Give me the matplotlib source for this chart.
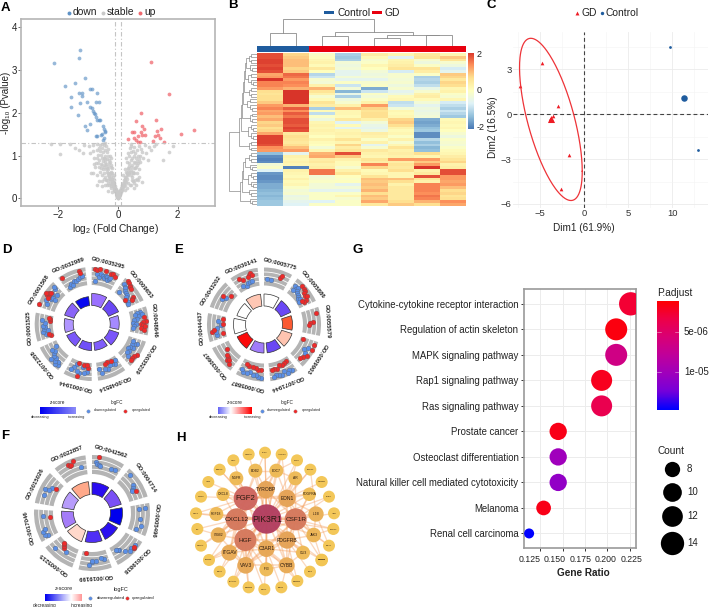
import numpy as np
import matplotlib
matplotlib.use("Agg")
import matplotlib.pyplot as plt
from matplotlib.colors import LinearSegmentedColormap
from matplotlib.patches import Wedge, Circle, Rectangle

plt.rcParams['font.family'] = ['Liberation Sans', 'DejaVu Sans']
plt.rcParams['mathtext.fontset'] = 'custom'
plt.rcParams['mathtext.rm'] = 'Liberation Sans'
plt.rcParams['mathtext.default'] = 'regular'

# ---------------- Panel A data
down_pts = [(-2.15,3.17),(-1.27,3.46),(-1.3,3.28),(-1.78,2.62),(-1.45,2.69),(-1.1,2.8),(-1.32,2.46),(-1.2,2.47),
 (-1.22,2.39),(-1.58,2.36),(-.93,2.56),(-.88,2.56),(-.7,2.47),(-.73,2.25),(-.62,2.24),(-1.05,2.26),(-1.27,2.22),
 (-1.57,2.13),(-.93,2.13),(-.88,2.1),(-.85,2.05),(-.8,2.0),(-.78,1.98),(-1.33,1.94),(-.73,1.9),(-.72,1.83),
 (-.65,1.82),(-.6,1.83),(-.95,1.73),(-1.1,1.69),(-1.03,1.6),(-.5,1.7),(-.48,1.63),(-.45,1.58),(-.42,1.55),
 (-.52,1.5),(-.58,1.47),(-.7,1.46),(-.73,1.45),(-.48,1.42),(-.5,1.37)]
up_pts = [(1.1,3.18),(1.72,2.44),(.78,2.0),(.6,1.8),(1.27,1.84),(.8,1.7),(.87,1.61),(.48,1.54),(.53,1.56),(.78,1.55),
 (.82,1.48),(.9,1.47),(1.3,1.57),(1.43,1.62),(2.56,1.6),(2.1,1.51),(.67,1.46),(1.25,1.46),(1.35,1.47),(1.42,1.42),
 (.33,1.38),(.53,1.4),(.6,1.36),(.68,1.32),(.75,1.32),(1.18,1.34),(1.53,1.32)]
stable_pts = [(-2.24,1.26),(-1.93,1.27),(-1.93,1.03),(-1.62,1.26),(-1.45,1.18),(-1.3,1.12),(-1.18,1.05),(-1.15,1.25),
 (-.98,1.22),(-.85,1.25),(-.7,1.28),(-.6,1.25),(-.52,1.27),(-.46,1.25),(-.95,1.05),(-.85,1.1),(-.8,.95),(-.72,1.12),
 (-.68,1.02),(-.6,1.1),(-.55,1.18),(-.5,1.08),(-.45,1.12),(-.42,1.0),(-.78,.72),(-.72,.55),(-.85,.58),(-.62,.9),
 (-.58,.8),(-.55,.95),(-.5,.88),(-.45,.78),(-.42,.85),(-.38,.92),(-.35,.75),(-.6,.62),(-.55,.55),(-.5,.68),(-.46,.6),
 (-.42,.5),(-.38,.62),(-.35,.55),(-.32,.68),(-.3,.48),(-.28,.6),(-.26,.4),(-.32,.36),(-.38,.3),(-.45,.32),(-.52,.28),
 (-.24,.52),(-.22,.34),(-.2,.45),(-.18,.28),(-.16,.38),(-.14,.22),(-.12,.3),(-.1,.18),(-.09,.25),(-.07,.13),(-.06,.2),
 (-.05,.1),(-.04,.06),(-.03,.04),(-.02,.02),(-.01,.01),(0,0),(.01,.01),(.02,.03),(.03,.05),(.04,.08),(.05,.12),(.06,.16),
 (.07,.1),(.08,.2),(.1,.24),(.11,.16),(.13,.3),(.14,.2),(.16,.36),(.18,.26),(.2,.42),(.22,.3),(.24,.5),(.26,.38),
 (.28,.62),(.3,.45),(.32,.7),(.34,.55),(.36,.82),(.38,.6),(.4,.3),(.42,.72),(.45,.9),(.46,.5),(.48,.78),(.5,.62),
 (.52,1.0),(.54,.85),(.56,.42),(.58,.7),(.6,.3),(.6,.95),(.62,1.12),(.65,.6),(.68,.82),(.7,1.22),(.7,.5),(.72,.68),
 (.74,1.0),(.78,1.15),(.8,.38),(.85,.95),(.9,1.25),(.95,1.05),(1.0,.9),(1.05,1.2),(1.1,1.12),(1.2,1.22),(1.28,1.27),
 (1.5,.9),(1.7,1.08),(1.85,1.23),(-.15,.55),(-.25,.72),(-.3,.82),(-.28,1.0),(-.35,1.15),(-.25,.95),(-.22,.62),
 (.18,.55),(.22,.68),(.3,.85),(.35,1.05),(.4,1.18),(.45,1.28),(.28,.95),(.42,1.08),(.52,.25),(.25,.2),(-.35,.18),
 (-.2,.15),(-.65,.4),(-.7,.3),(-.8,.8),(-.9,.58),(.75,.85),(.62,.45),
 (-.44,1.3),(-.4,1.22),(-.36,1.08),(-.33,.98),(-.3,.9),(-.27,.85),(-.24,.78),(-.21,.7),(-.19,.6),(-.17,.5),(-.15,.42),
 (-.13,.36),(-.11,.28),(-.09,.16),(-.08,.22),(-.07,.18),(-.06,.14),(-.05,.16),(-.04,.11),(-.03,.08),(-.02,.05),
 (-.48,.95),(-.44,.92),(-.4,.8),(-.37,.7),(-.33,.6),(-.29,.52),(-.27,.46),(-.25,.58),(-.23,.44),(-.21,.38),(-.19,.34),
 (-.17,.3),(-.15,.26),(-.13,.2),(-.11,.22),(-.41,.68),(-.47,.72),(-.52,.78),(-.56,.7),(-.62,.72),(-.66,.82),(-.7,.95),
 (-.41,.42),(-.36,.42),(-.3,.3),(-.25,.28),(-.22,.24),(-.48,.45),(-.55,.4),(-.58,1.02),(-.63,1.18),(-.75,.82),
 (.02,.06),(.03,.09),(.04,.05),(.05,.15),(.06,.11),(.07,.17),(.09,.14),(.1,.2),(.12,.26),(.13,.22),(.15,.28),(.17,.32),
 (.19,.36),(.21,.28),(.23,.4),(.25,.44),(.27,.5),(.29,.56),(.31,.6),(.33,.62),(.35,.68),(.37,.75),(.4,.62),(.42,.55),
 (.44,.65),(.47,.42),(.49,.58),(.52,.7),(.55,.6),(.57,.82),(.6,.72),(.64,.78),(.66,.98),(.68,.42),(.35,.35),(.3,.25),
 (.45,.3),(.5,.4),(.55,.35),(.42,1.22),(.5,1.1),(.55,1.2),(.58,1.05),(.62,.88),(.72,.92),(.82,1.08),(.48,.95),(.38,.98)]
volcano_xticks = [-2, 0, 2]
volcano_yticks = [0, 1, 2, 3, 4]
volcano_fc_cut = [-0.1, 0.1]
volcano_p_cut = 1.3

# ---------------- Panel B data
heat = np.array([
[1.9,.8,-.1,-1.2,.4,.2,.5,.2],[1.9,.9,.0,-1.3,.1,-.7,.6,.9],[2.0,1.0,.2,-1.2,-.2,.2,-.2,.6],[2.0,1.0,.3,-.3,-.1,.3,-.4,-.2],
[1.9,1.0,.1,-.4,.2,.4,-.1,-.4],[2.0,.8,.5,-.3,.0,.6,.6,-.8],[1.9,.9,.0,-.6,-.3,-.8,.4,-.6],[1.2,1.7,-1.1,-.6,-.4,-.2,-.1,.9],
[1.3,1.6,-.9,-.3,-.3,-.2,-1.2,.8],[2.1,1.3,-.2,-.6,-.6,-.3,-1.1,.5],[1.5,1.5,-.3,-.1,-.2,-.2,-1.2,.8],[1.5,1.4,.3,-.9,-.1,-.4,-1.0,.7],
[1.3,1.1,1.1,-.3,-1.6,-.2,-.5,.2],[.7,2.1,.6,-1.5,-.9,-.6,-.2,.3],[.6,2.1,.3,-.5,-.1,-.4,.3,-.1],[.7,2.1,-.2,-1.2,-.3,.1,.4,-.2],
[.7,2.1,.1,-.4,-.1,.2,.1,.2],[.9,2.1,.6,-.2,.3,-1.0,-.3,-.8],[1.3,1.1,.4,.3,1.3,-.9,-.6,-1.0],[1.5,1.8,-1.2,1.0,.8,-.3,-.4,-1.2],
[1.2,1.4,.1,.2,.6,.2,-.5,-.9],[1.3,1.8,-1.0,.2,.7,.1,-.4,-1.1],[1.0,1.6,-.1,.1,.7,.2,-.3,-1.3],[1.2,1.9,-.4,.5,.3,.8,-1.6,.1],
[.8,1.9,.2,-.7,-.3,.9,-1.7,.2],[.9,1.8,.3,.1,-.5,.7,-1.6,.1],[.7,2.0,.2,-.6,-.6,.3,-1.4,.2],[.8,1.9,.3,.2,-.4,.1,-1.3,.0],
[1.2,.5,.2,.3,.4,.2,-1.9,-.2],[2.0,.7,.0,.2,.3,-.1,-1.9,-.4],[2.0,.6,.3,.6,-.1,.3,-1.1,-.1],[2.0,.5,.1,.2,.3,-.2,-1.4,-.2],
[1.9,.7,.0,.8,-.6,.2,-1.2,-.3],[1.4,1.0,-.3,.4,-.2,.6,-1.5,-.1],[1.3,1.3,.2,.6,.5,.3,-1.4,.1],[-1.4,-.6,1.1,1.9,.3,.4,.7,.2],
[-1.9,.3,1.2,.9,.2,.3,.2,.4],[-2.0,.2,.4,.3,.6,1.3,1.3,.6],[-1.9,.3,.5,.1,.4,.4,.9,.8],[-.3,.2,.3,.1,1.5,.6,1.3,.3],
[-.1,-2.0,.4,-.2,.8,.5,2.1,.4],[-.7,.3,1.6,.3,.1,.7,.3,1.9],[-1.8,.2,1.6,.6,.2,.2,.5,1.9],[-1.9,.1,-.3,.0,.6,.2,1.9,1.3],
[-1.9,.3,-.2,-.1,1.0,1.0,.6,1.3],[-1.8,.1,-.1,.0,.9,.7,.3,1.2],[-1.6,.2,-.3,-.6,1.0,.3,1.5,1.3],[-1.6,-.1,-.3,-.3,.9,.5,1.5,1.0],
[-1.5,-.3,-.6,-.6,1.1,.5,1.5,.7],[-1.4,-.2,-.1,-.1,.7,.5,1.4,.8],[-1.5,-.5,-.1,.2,1.0,.5,1.6,.6],[-1.4,-.4,-.1,-.2,.9,.5,1.5,.7],
[-1.3,-.6,-.7,-.1,1.2,.7,1.1,1.4],[-1.3,-.7,-.1,-.1,.5,.9,.7,1.2]])
group_labels = ["Control", "GD"]
group_sizes = [2, 6]
heat_ticks = [-2, 0, 2]
# column tree as (height, left, right), leaves are None
col_tree = (27, (13.5, None, None),
            (14, (10, None, None), (11.5, (8.5, None, None), (11, None, None))))
# row tree: sizes of the small leaf groups and how high they join
row_blocks_top = [(4,8),(3,7),(5,9),(4,8),(5,10),(4,7),(6,9),(4,8)]
row_blocks_bot = [(4,8),(3,7),(6,9),(3,8),(3,7)]

# ---------------- Panel C data
gd_dim = [(-4.75,3.4),(-7.3,1.85),(-2.95,.55),(-3.5,-.15),(-3.8,-.3),(-3.7,-.35),(-3.9,-.4),(-3.6,-.4),(-1.65,-2.75),(-2.65,-5.0)]
ctrl_dim = [(9.75,4.5),(12.95,-2.4)]
gd_center = (-3.75,-.35)
ctrl_center = (11.3,1.05)
ell_sx, ell_sy, ell_rho = 3.55, 5.42, -.64

# ---------------- Panels D,E,F data
D_labels = ["GO:0035295","GO:0009653","GO:0048646","GO:0035239","GO:0048514","GO:0001944","GO:0072358","GO:0001525","GO:0001568","GO:0032989"]
D_height = [12,11,9,10,8,8,9,9,10,9]
D_color = ["#9a70ff","#6a48f5","#a58aff","#7a55fa","#7f5cfb","#7050f8","#7a58f9","#b095ff","#8a65f8","#0808f0"]
D_down = [
 [(.2,.6),(.3,.5),(.35,.65),(.45,.55),(.5,.45),(.55,.6),(.6,.55),(.65,.4),(.7,.5),(.75,.6),(.15,.25)],
 [(.1,.7),(.2,.6),(.25,.55),(.3,.45),(.4,.4),(.5,.35),(.55,.25),(.65,.15),(.75,.2),(.85,.15),(.15,.2)],
 [(.12,.6),(.15,.45),(.2,.3),(.3,.5),(.4,.35),(.45,.2),(.55,.15),(.6,.3),(.7,.2),(.8,.12),(.25,.7)],
 [(.2,.6),(.25,.45),(.3,.35),(.4,.5),(.45,.3),(.55,.25),(.6,.4),(.7,.35),(.8,.5),(.15,.3)],
 [(.1,.2),(.2,.4),(.3,.3),(.4,.35),(.55,.5),(.65,.45),(.8,.6),(.9,.35)],
 [(.2,.5),(.3,.6),(.4,.25),(.5,.65),(.6,.55),(.7,.2),(.75,.4),(.85,.6),(.3,.2)],
 [(.12,.8),(.18,.65),(.2,.85),(.3,.7),(.35,.55),(.45,.6),(.55,.5),(.6,.35),(.7,.45),(.75,.2),(.45,.85)],
 [(.2,.45),(.3,.55),(.4,.5),(.5,.45),(.55,.55),(.65,.45),(.75,.6),(.35,.3)],
 [(.2,.55),(.35,.7),(.45,.5),(.55,.45),(.65,.6),(.75,.35),(.85,.65),(.9,.8),(.5,.25)],
 [(.2,.2),(.3,.35),(.35,.25),(.45,.4),(.55,.35),(.65,.45),(.75,.5),(.85,.55)]]
D_up = [
 [(.1,.9),(.18,.85),(.3,.92),(.5,.85),(.7,.8),(.8,.85),(.9,.75)],
 [(.15,.95),(.22,.9),(.3,.85),(.35,.8),(.4,.75),(.7,.55),(.75,.5),(.8,.45),(.6,.1)],
 [(.5,.85),(.55,.7),(.6,.6),(.65,.7),(.7,.8),(.75,.6),(.85,.75),(.35,.75)],
 [(.55,.85),(.65,.8),(.75,.75),(.85,.8)],
 [(.3,.15),(.45,.1),(.6,.15)],
 [(.15,.3),(.35,.15),(.6,.1),(.55,.85),(.2,.15)],
 [],
 [(.1,.2),(.15,.3),(.75,.15),(.85,.15),(.9,.25)],
 [(.1,.95),(.5,.8),(.55,.7),(.6,.75),(.65,.7),(.45,.65),(.55,.88)],
 [(.1,.85),(.75,.85),(.8,.75)]]
E_labels = ["GO:0005775","GO:0005886","GO:0055579","GO:0009903","GO:0071944","GO:0005887","GO:0030667","GO:0044437","GO:0043202","GO:0030141"]
E_height = [12,11,10,11,10,10,11,12,10,12]
E_color = ["#ffffff","#6a48f5","#fb5a32","#ffc4b0","#6a48f5","#a07cfa","#fb0a0a","#ffffff","#ffffff","#ffc7b4"]
E_down = [
 [(.15,.35),(.3,.35)],
 [(.1,.6),(.2,.5),(.25,.6),(.3,.45),(.35,.35),(.45,.35),(.5,.25),(.6,.2),(.65,.3),(.75,.15),(.15,.35)],
 [],
 [(.35,.6),(.45,.45),(.55,.6)],
 [(.15,.8),(.25,.7),(.35,.85),(.45,.65),(.55,.8),(.65,.75),(.75,.7),(.85,.8)],
 [(.12,.8),(.22,.75),(.3,.65),(.4,.7),(.55,.6),(.65,.7),(.8,.72),(.9,.6)],
 [],
 [(.2,.5),(.3,.55),(.45,.45),(.6,.2),(.75,.4)],
 [(.45,.55),(.6,.4)],
 [(.25,.25),(.4,.2),(.5,.3),(.6,.3),(.7,.35)]]
E_up = [
 [(.65,.55),(.7,.7)],
 [(.3,.85),(.4,.8),(.5,.75),(.55,.65),(.65,.6),(.7,.7),(.8,.55),(.85,.4),(.75,.35)],
 [(.2,.8),(.5,.55),(.55,.4),(.65,.35)],
 [(.15,.85),(.35,.85),(.6,.8),(.75,.65),(.85,.55),(.1,.15)],
 [(.15,.2),(.3,.25),(.4,.3),(.55,.25),(.65,.4),(.8,.35),(.9,.4)],
 [(.15,.35),(.25,.4),(.35,.3),(.5,.25),(.65,.3),(.8,.2)],
 [(.2,.75),(.35,.65),(.4,.55),(.5,.5),(.7,.3),(.3,.6)],
 [(.2,.15),(.35,.75),(.4,.6),(.65,.1),(.85,.15)],
 [(.55,.6),(.75,.25)],
 [(.25,.7),(.35,.55),(.65,.7),(.7,.8),(.75,.65),(.6,.6)]]
F_labels = ["GO:0042562","GO:0004714","GO:0005496","GO:0019838","GO:0019199","GO:0005215","GO:0017046","GO:0015026","GO:0022857"]
F_height = [12,12,12,11,11,12,12,12,13]
F_color = ["#2a0cf0","#7a4ff5","#0000ee","#2a10f0","#4f2ff5","#ffd8cb","#a47cf8","#b79cfb","#ffa98a"]
F_down = [
 [(.15,.65),(.18,.55),(.25,.5),(.3,.45),(.7,.45),(.85,.5)],
 [(.15,.75),(.45,.55),(.55,.45),(.6,.4),(.65,.35)],
 [(.15,.45),(.5,.5),(.75,.6),(.9,.4),(.15,.75)],
 [(.2,.75),(.3,.8),(.35,.7),(.45,.75),(.55,.6),(.7,.35),(.75,.3),(.8,.25)],
 [(.15,.45),(.25,.35),(.45,.5),(.6,.55),(.7,.7),(.6,.45)],
 [(.4,.4),(.8,.65)],
 [(.1,.55),(.15,.65),(.25,.7),(.35,.55),(.8,.55)],
 [(.3,.65),(.5,.7),(.65,.45),(.55,.5)],
 [(.8,.45)]]
F_up = [[(.2,.9)],[(.7,.55)],[],[(.3,.85),(.25,.8)],[(.85,.1)],[(.55,.3),(.6,.2),(.65,.15),(.7,.1)],[(.75,.15)],[(.7,.2)],[(.4,.8),(.45,.7),(.5,.72),(.6,.85)]]

# ---------------- Panel G data
pathways = ["Cytokine-cytokine receptor interaction","Regulation of actin skeleton","MAPK signaling pathway",
            "Rap1 signaling pathway","Ras signaling pathway","Prostate cancer","Osteoclast differentiation",
            "Natural killer cell mediated cytotoxicity","Melanoma","Renal cell carcinoma"]
gene_ratio = [.2258,.2097,.2097,.1935,.1935,.1452,.1452,.1452,.129,.1129]
gene_count = [14,13,13,12,12,9,9,9,8,7]
p_adjust = [2.8e-6,1.6e-6,6.6e-6,2.1e-6,3.8e-6,1.9e-6,1.02e-5,1.1e-5,1.9e-6,1.48e-5]
ratio_ticks = [.125,.15,.175,.2,.225]
legend_counts = [8,10,12,14]

# ---------------- Panel H data
node_names = ["PIK3R1","FGF2","CXCL12","CSF1R","HGF","TYROBP","EDN1","C3AR1","PDGFRB","ITGB2","ITGAV","VAV3","CYBB","IL1B","JAK3",
 "CXCL8","FGF18","PDGFRA","GLI3","BDB2","EDC7","AR","NGFR","IFI3","SOMM8",
 "TAC1","ACKR3","PENK","PRKD1","CTGRB","CLR1","IL6R","FGFR2","CD48","SOMM1","LIG3","SOMM2","NRG1","MECT","SOMM3","NFATC1","CD34","TGFB3","CTGA1","LIX","CTSS","WNSS","ITM2","NRBP2","SELL","SEMA3"]
node_degree = [44,36,33,33,33,26,26,25,26,23,24,25,24,23,22,20,21,20,21,21,21,21,21,21,19,
 18,18,18,18,18,18,18,18,18,18,18,18,18,18,18,18,18,18,18,18,18,18,18,18,18,18]
node_x = [305,242,215,392,241,303,366,304,366,160,193,242,365,453,446,174,154,433,414,271,334,391,214,304,470,
 300,350,396,436,470,492,507,505,492,470,435,397,349,298,251,205,164,132,108,97,93,108,130,164,205,251]
node_y = [312,250,313,313,375,224,250,401,375,360,413,451,451,297,360,238,297,238,413,167,167,190,190,463,435,
 113,118,136,164,201,245,295,342,392,435,470,498,517,523,517,500,470,435,392,342,295,245,201,164,136,118]
hub_links = {
 "PIK3R1":["FGF2","CXCL12","CSF1R","HGF","TYROBP","EDN1","C3AR1","PDGFRB","ITGB2","ITGAV","VAV3","CYBB","IL1B","JAK3","CXCL8","FGF18","PDGFRA","GLI3","BDB2","EDC7","AR","NGFR","IFI3","SOMM8","TAC1","ACKR3","PENK","PRKD1","CLR1","FGFR2","NFATC1","TGFB3","CTSS","NRBP2","SEMA3"],
 "FGF2":["CXCL12","HGF","TYROBP","EDN1","CXCL8","FGF18","NGFR","BDB2","EDC7","ITGB2","ITGAV","PDGFRA","TAC1","SELL","ITM2","WNSS","CTSS","NRBP2","C3AR1"],
 "CXCL12":["CSF1R","HGF","TYROBP","C3AR1","ITGB2","ITGAV","VAV3","FGF18","CXCL8","LIX","CTGA1","TGFB3","CTSS"],
 "CSF1R":["EDN1","HGF","TYROBP","C3AR1","PDGFRB","CYBB","IL1B","JAK3","PDGFRA","GLI3","AR","CLR1","IL6R","FGFR2","CD48","VAV3","SOMM8"],
 "HGF":["C3AR1","PDGFRB","ITGB2","ITGAV","VAV3","CYBB","IFI3","CD34","NFATC1","SOMM3","MECT","TGFB3"],
 "TYROBP":["C3AR1","ITGB2","VAV3","CYBB","EDC7","TAC1","ACKR3","BDB2"],
 "EDN1":["AR","PENK","PRKD1","CTGRB","PDGFRA","EDC7","ACKR3","IL1B","JAK3","PDGFRB"],
 "C3AR1":["ITGAV","VAV3","CYBB","IFI3","NRG1","MECT","SOMM2","GLI3","PDGFRB"],
 "PDGFRB":["JAK3","GLI3","CYBB","SOMM8","SOMM2","LIG3","PDGFRA","VAV3"],
 "CYBB":["VAV3","NRG1","SOMM2","GLI3","IFI3"],"VAV3":["NFATC1","ITGAV","ITGB2","SOMM3"],"IL1B":["JAK3","CD48","PRKD1"],
 "JAK3":["SOMM8","CD48","FGFR2"],"EDC7":["ACKR3","PENK","AR","BDB2"],"ITGAV":["TGFB3","CD34"],"ITGB2":["CTGA1","LIX"]}

# ================ layout helpers
W, H = 709, 607
fig = plt.figure(figsize=(W/100, H/100), dpi=100)
def axpx(l, t, r, b, **kw):
    return fig.add_axes([l/W, 1-b/H, (r-l)/W, (b-t)/H], **kw)
ov = axpx(0, 0, W, H)
ov.set_xlim(0, W); ov.set_ylim(H, 0); ov.axis('off'); ov.set_zorder(20); ov.patch.set_alpha(0)
def T(x, y, s, **kw):
    kw.setdefault('va', 'center'); kw.setdefault('ha', 'left'); kw.setdefault('fontsize', 7); kw.setdefault('color', '#222222')
    ov.text(x, y, s, **kw)
for s, x, y in [("A",5,8),("B",233,5),("C",491,5),("D",7,250),("E",179,250),("F",5,436),("G",358,250),("H",181,438)]:
    T(x, y, s, fontsize=9.5, fontweight='bold', ha='center', color='black')

# ================ A
ax = axpx(21, 19, 215, 206)
ax.set_xlim(-3.25, 3.25); ax.set_ylim(-.18, 4.19)
col_s, col_d, col_u = "#c9c9c9", "#5f92c6", "#f0696f"
ax.scatter(*zip(*stable_pts), s=7, c=col_s, alpha=.8, lw=0)
ax.scatter(*zip(*down_pts), s=7.5, c=col_d, alpha=.65, lw=0)
ax.scatter(*zip(*up_pts), s=7.5, c=col_u, alpha=.75, lw=0)
for v in volcano_fc_cut:
    ax.axvline(v, color="#c4c4c4", lw=.8, ls=(0, (4, 2, 1, 2)))
ax.axhline(volcano_p_cut, color="#c4c4c4", lw=.8, ls=(0, (4, 2, 1, 2)))
ax.set_xticks(volcano_xticks); ax.set_yticks(volcano_yticks)
ax.tick_params(labelsize=7, length=2, width=.6, color="#555555", labelcolor="#222222", pad=1)
for sp in ax.spines.values():
    sp.set_color("#b5b5b5"); sp.set_linewidth(1.2)
T(6, 103, "-log\u2081\u2080 (Pvalue)", rotation=90, ha='center', fontsize=7.0)
T(115, 229, r"log$_{2}$ (Fold Change)", ha='center', fontsize=7.3)
for x, c, s in [(69, col_d, "down"), (103, col_s, "stable"), (140, col_u, "up")]:
    ov.scatter([x], [12.5], s=8, c=c, lw=0)
    T(x+4, 12.2, s, fontsize=7.4)

# ================ B
cmB = LinearSegmentedColormap.from_list("ph", ["#4575B4","#91BFDB","#E0F3F8","#FFFFBF","#FEE090","#FC8D59","#D73027"])
ax = axpx(256.7, 52.7, 465, 205.7)
ax.imshow(heat, aspect='auto', cmap=cmB, vmin=-2.15, vmax=2.15, interpolation='nearest')
ax.axis('off')
ax = axpx(256.7, 46, 465, 51.7)
ax.imshow(np.repeat([0, 1], group_sizes)[None, :], aspect='auto', cmap=LinearSegmentedColormap.from_list("g", ["#1f5c9e", "#e8000f"]))
ax.axis('off')
ax = axpx(467.7, 52.7, 473, 129)
ax.imshow(np.linspace(2.1, -2.1, 100)[:, None], aspect='auto', cmap=cmB, vmin=-2.15, vmax=2.15, extent=(0, 1, -2.1, 2.1))
ax.axis('off')
for v in heat_ticks:
    T(476.5, 90.7-18.3*v, str(v), fontsize=6.5)
ov.add_patch(Rectangle((324, 11.3), 10, 3.2, color="#1f5c9e", lw=0))
T(337, 13, group_labels[0], fontsize=7.4)
ov.add_patch(Rectangle((372, 11.3), 10, 3.2, color="#e8000f", lw=0))
T(384.5, 13, group_labels[1], fontsize=7.4)

def draw_col(node, pos):
    if node is None:
        x = pos[0]; pos[0] += 1
        return x, 0
    h, a, b = node
    xa, ha = draw_col(a, pos); xb, hb = draw_col(b, pos)
    axd.plot([xa, xa, xb, xb], [ha, h, h, hb], color="#8c8c8c", lw=.6, solid_joinstyle='miter')
    return (xa+xb)/2, h
axd = axpx(256.7, 17, 465, 46)
axd.set_xlim(0, 8); axd.set_ylim(0, 29); axd.axis('off')
draw_col(col_tree, [.5])

def small_tree(n, h):
    if n == 1:
        return None
    k = n//2
    return (h, small_tree(k, h*.68), small_tree(n-k, h*.68))
def join(blocks, heights):
    t = small_tree(*blocks[0])
    for b, h in zip(blocks[1:], heights):
        t = (h, t, small_tree(*b))
    return t
row_tree = (27.5, join(row_blocks_top, [11,12,13,14,15,15.5,18]), join(row_blocks_bot, [12,14,15,17]))
def draw_row(node, pos):
    if node is None:
        y = pos[0]; pos[0] += 1
        return y, 0
    h, a, b = node
    ya, ha = draw_row(a, pos); yb, hb = draw_row(b, pos)
    axr.plot([ha, h, h, hb], [ya, ya, yb, yb], color="#8c8c8c", lw=.5, solid_joinstyle='miter')
    return (ya+yb)/2, h
axr = axpx(228, 52.7, 256.7, 205.7)
axr.set_xlim(28.7, 0); axr.set_ylim(54, 0); axr.axis('off')
draw_row(row_tree, [.5])

# ================ C
ax = axpx(513, 32, 708, 208)
ax.set_xlim(-8.04, 14.04); ax.set_ylim(-6.27, 5.49)
ax.set_xticks([-5, 0, 5, 10]); ax.set_yticks([-6, -3, 0, 3])
ax.set_xticks([-7.5, -2.5, 2.5, 7.5, 12.5], minor=True); ax.set_yticks([-4.5, -1.5, 1.5, 4.5], minor=True)
ax.grid(True, which='major', color="#ebebeb", lw=.6); ax.grid(True, which='minor', color="#f3f3f3", lw=.4)
ax.tick_params(which='both', length=0, labelsize=6.8, labelcolor="#333333", pad=1)
ax.set_axisbelow(True)
for sp in ax.spines.values():
    sp.set_visible(False)
ax.axhline(0, color="#444444", lw=.8, ls=(0, (3.5, 2.5))); ax.axvline(0, color="#444444", lw=.8, ls=(0, (3.5, 2.5)))
tt = np.linspace(0, 2*np.pi, 200)
ax.plot(gd_center[0]+ell_sx*np.cos(tt), gd_center[1]+ell_sy*(ell_rho*np.cos(tt)+np.sqrt(1-ell_rho**2)*np.sin(tt)), color="#ee3338", lw=.9)
ax.scatter(*zip(*gd_dim), marker='^', s=7, c="#ee1c25", lw=0, clip_on=False)
ax.scatter(*gd_center, marker='^', s=26, c="#ee1c25", lw=0)
ax.scatter(*zip(*ctrl_dim), marker='o', s=4, c="#1f5c9e", lw=0)
ax.scatter(*ctrl_center, marker='o', s=22, c="#1f5c9e", lw=0)
T(493, 127, "Dim2 (16.5%)", rotation=90, ha='center', fontsize=7.2)
T(584, 228, "Dim1 (61.9%)", ha='center', fontsize=7.2)
ov.scatter([577], [13], marker='^', s=8, c="#ee1c25", lw=0)
T(581.5, 13, "GD", fontsize=7.4)
ov.scatter([601.5], [13], marker='o', s=6, c="#1f5c9e", lw=0)
T(606, 13, "Control", fontsize=7.4)

# ================ D,E,F
def go_circle(cx, cy, labels, heights, colors, downs, ups, R=57, Ri=39, r0=18.5):
    a = axpx(cx-70, cy-70, cx+70, cy+70)
    a.set_xlim(-70, 70); a.set_ylim(70, -70); a.axis('off'); a.set_aspect('equal')
    n = len(labels); step = 360/n; gap = 6.5
    for i in range(n):
        a0 = i*step; a1 = a0+step-gap
        a.add_patch(Wedge((0, 0), R, a0-90, a1-90, width=R-Ri, fc="#b4b4b4", ec='none'))
        for f in (.25, .5, .75):
            rr = Ri+(R-Ri)*f
            aa = np.radians(np.linspace(a0, a1, 30))
            a.plot(rr*np.sin(aa), -rr*np.cos(aa), color='white', lw=.6)
        a.add_patch(Wedge((0, 0), r0+heights[i], a0-90, a1-90, width=heights[i], fc=colors[i], ec="#333333", lw=.5))
        am = np.radians((a0+a1)/2)
        a.text((R+6)*np.sin(am), -(R+6)*np.cos(am), labels[i], fontsize=4.3, ha='center', va='center',
               rotation=-(a0+a1)/2, rotation_mode='anchor', color="#222222", fontweight='bold')
        for pts, c in ((downs[i], "#5b8fe6"), (ups[i], "#ee2a2a")):
            if pts:
                tv, rv = np.array(pts).T
                th = np.radians(a0+(a1-a0)*tv); rad = Ri+(R-Ri)*rv
                a.scatter(rad*np.sin(th), -rad*np.cos(th), s=12, c=c, lw=.2, edgecolors="#555555", zorder=3)
    return a
go_circle(91.7, 324, D_labels, D_height, D_color, D_down, D_up)
go_circle(264, 324.5, E_labels, E_height, E_color, E_down, E_up)
go_circle(92, 513, F_labels, F_height, F_color, F_down, F_up, R=58)

cmZ = LinearSegmentedColormap.from_list("z", ["#0000f0", "#ffffff", "#ff0000"])
def zbar(l, t, r, b, v0, v1):
    a = axpx(l, t, r, b)
    a.imshow(np.linspace(v0, v1, 60)[None, :], aspect='auto', cmap=cmZ, vmin=-1, vmax=1)
    a.axis('off')
def go_legend(zx0, zx1, zy, v0, v1, lx, dx, ux, tdown, tup, dec_y, fs):
    zbar(zx0, zy, zx1, zy+7, v0, v1)
    T((zx0+zx1)/2, zy-5, "z-score", fontsize=fs+.8, ha='center')
    T(lx, zy-4.5, "logFC", fontsize=fs+.8, ha='center')
    ov.scatter([dx], [zy+3.5], s=6, c="#5b8fe6", lw=.2, edgecolors="#888888")
    ov.scatter([ux], [zy+3.5], s=6, c="#ee2a2a", lw=.2, edgecolors="#888888")
    T(tdown, zy+3.5, "downregulated", fontsize=fs, ha='center')
    T(tup, zy+3.5, "upregulated", fontsize=fs, ha='center')
    T(zx0, dec_y, "decreasing", fontsize=fs+.2, ha='center')
    T(zx1, dec_y, "increasing", fontsize=fs+.2, ha='center')
go_legend(40, 76, 407, -1, -.45, 117, 88, 125, 105, 141, 417, 2.5)
go_legend(218, 252, 407, -.6, 1, 287, 262, 295, 279, 311, 417, 2.6)
go_legend(45, 82, 594, -1, .4, 121, 90, 127, 111, 143, 605, 3.2)

# ================ G
cmG = LinearSegmentedColormap.from_list("g", ["#ff0000","#ee0047","#d90075","#c0009b","#a000bc","#7600da","#0000ff"])
size_of = {7: 10, 8: 14.7, 9: 17.3, 10: 18.7, 12: 21, 13: 22, 14: 23.3}
def s_area(c):
    return (size_of[c]*.72)**2
ax = axpx(524, 289.3, 636, 548)
ax.set_xlim(.1072, .2317); ax.set_ylim(9.57, -.57)
ax.set_xticks(ratio_ticks); ax.set_xticklabels([])
ax.set_yticks(range(len(pathways))); ax.set_yticklabels(pathways)
ax.grid(True, color="#ececec", lw=.7); ax.set_axisbelow(True)
ax.tick_params(axis='y', labelsize=6.9, length=2.5, width=.7, pad=1.5, labelcolor="#222222", color="#333333")
ax.tick_params(axis='x', length=2.5, width=.7, color="#333333")
for sp in ax.spines.values():
    sp.set_color("#9a9a9a"); sp.set_linewidth(1.2)
ax.scatter(gene_ratio, range(len(pathways)), s=[s_area(c) for c in gene_count], c=p_adjust, cmap=cmG,
           vmin=1.1e-6, vmax=1.48e-5, lw=0, zorder=3)
for v, x in zip(ratio_ticks, [530, 555, 580.7, 606, 631.7]):
    T(x, 559.7, f"{v:.3f}", ha='center', fontsize=6.3)
T(583, 572.5, "Gene Ratio", ha='center', fontsize=7.2, fontweight='bold')
cb = axpx(657, 300.7, 679, 410)
cb.imshow(np.linspace(1.1e-6, 1.48e-5, 100)[:, None], aspect='auto', cmap=cmG, vmin=1.1e-6, vmax=1.48e-5, extent=(0, 1, 1.48e-5, 1.1e-6))
cb.axis('off')
for y, s in [(331.7, "5e-06"), (371.7, "1e-05")]:
    T(684, y, s, fontsize=7)
    ov.plot([657, 661], [y, y], color="white", lw=.4, alpha=.7); ov.plot([675, 679], [y, y], color="white", lw=.4, alpha=.7)
T(657, 292.5, "P.adjust", fontsize=7.3)
T(657, 451, "Count", fontsize=7.3)
for c, y in zip(legend_counts, [469.3, 491.7, 516, 543.3]):
    ov.scatter([672], [y], s=(({8: 15.3, 10: 18.7, 12: 20.7, 14: 23.3}[c])*.72)**2, c='black', lw=0)
    T(687, y, str(c), fontsize=7)

# ================ H
ah = axpx(165, 415, 345, 607)
ah.set_xlim(0, 540); ah.set_ylim(576, 0); ah.axis('off'); ah.set_zorder(-1)
idx = {n: i for i, n in enumerate(node_names)}
for hub, others in hub_links.items():
    for o in others:
        i, j = idx[hub], idx[o]
        wt = min(node_degree[i], node_degree[j])
        ah.plot([node_x[i], node_x[j]], [node_y[i], node_y[j]], color="#f59a55", lw=.2+wt/25, alpha=.38, zorder=1)
cmN = LinearSegmentedColormap.from_list("n", ["#f3c654", "#e49f55", "#d0695e", "#b23e60"])
for n, x, y, d in zip(node_names, node_x, node_y, node_degree):
    ah.add_patch(Circle((x, y), d, fc=cmN((d-18)/26), ec='none', zorder=2, alpha=.97))
    fs = {44: 6.2, 36: 5.6, 33: 4.6}.get(d, 3.6 if d >= 24 else (2.4 if d >= 20 else 1.6))
    ah.text(x, y, n, fontsize=fs, ha='center', va='center', color="#2a1a10", zorder=3)

fig.savefig("out.png", dpi=100)
